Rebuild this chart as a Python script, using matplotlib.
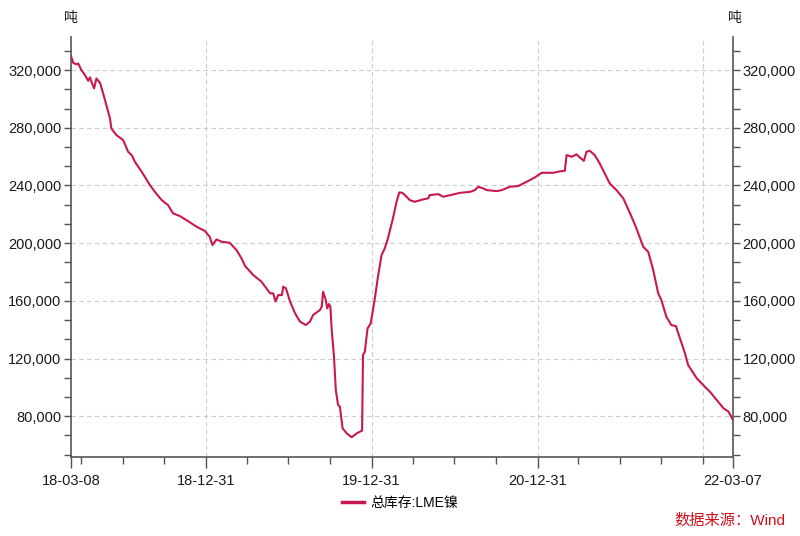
import numpy as np
import pandas as pd
import matplotlib
matplotlib.use("Agg")
import matplotlib.pyplot as plt
import matplotlib.dates as mdates
from matplotlib.ticker import FixedLocator, FuncFormatter

plt.rcParams['font.family'] = ['Liberation Sans', 'Noto Sans CJK SC', 'DejaVu Sans']

# LME nickel total stock (tonnes)
dates = [
    "2018-03-08", "2018-03-13", "2018-03-20", "2018-03-24", "2018-03-31", "2018-04-08",
    "2018-04-15", "2018-04-19", "2018-04-22", "2018-04-28", "2018-05-03", "2018-05-11",
    "2018-05-18", "2018-05-25", "2018-06-02", "2018-06-05", "2018-06-16", "2018-07-01",
    "2018-07-12", "2018-07-20", "2018-07-27", "2018-08-11", "2018-08-29", "2018-09-09",
    "2018-09-24", "2018-10-08", "2018-10-19", "2018-11-03", "2018-11-21", "2018-12-10",
    "2018-12-28", "2019-01-08", "2019-01-14", "2019-01-23", "2019-02-03", "2019-02-21",
    "2019-03-08", "2019-03-19", "2019-03-27", "2019-04-14", "2019-05-02", "2019-05-13",
    "2019-05-21", "2019-05-28", "2019-06-02", "2019-06-08", "2019-06-16", "2019-06-19",
    "2019-06-25", "2019-07-04", "2019-07-15", "2019-07-26", "2019-08-08", "2019-08-17",
    "2019-08-24", "2019-09-08", "2019-09-12", "2019-09-15", "2019-09-21", "2019-09-24",
    "2019-09-28", "2019-10-01", "2019-10-04", "2019-10-09", "2019-10-13", "2019-10-18",
    "2019-10-22", "2019-10-28", "2019-11-06", "2019-11-17", "2019-11-28", "2019-12-10",
    "2019-12-12", "2019-12-16", "2019-12-22", "2019-12-29", "2020-01-07", "2020-01-14",
    "2020-01-22", "2020-01-29", "2020-02-05", "2020-02-16", "2020-02-24", "2020-03-01",
    "2020-03-08", "2020-03-17", "2020-03-24", "2020-04-04", "2020-04-23", "2020-05-04",
    "2020-05-07", "2020-05-26", "2020-06-06", "2020-06-21", "2020-07-13", "2020-08-04",
    "2020-08-15", "2020-08-22", "2020-09-02", "2020-09-10", "2020-10-02", "2020-10-13",
    "2020-10-31", "2020-11-18", "2020-12-07", "2020-12-25", "2021-01-09", "2021-02-04",
    "2021-02-18", "2021-03-01", "2021-03-05", "2021-03-16", "2021-03-27", "2021-04-03",
    "2021-04-12", "2021-04-18", "2021-04-25", "2021-05-06", "2021-05-17", "2021-05-28",
    "2021-06-08", "2021-06-23", "2021-07-08", "2021-07-23", "2021-08-06", "2021-08-21",
    "2021-09-01", "2021-09-12", "2021-09-23", "2021-09-30", "2021-10-11", "2021-10-22",
    "2021-11-01", "2021-11-10", "2021-11-21", "2021-11-28", "2021-12-17", "2022-01-04",
    "2022-01-15", "2022-01-30", "2022-02-14", "2022-02-25", "2022-03-07",
]
stock_k = [
    329.7, 325.0, 324.0, 324.6, 320.0, 316.5,
    312.6, 315.0, 312.0, 307.3, 314.2, 311.2,
    303.8, 295.7, 286.5, 279.6, 275.0, 271.5,
    263.4, 261.0, 256.4, 249.5, 240.3, 235.6,
    229.9, 226.4, 220.7, 218.8, 215.3, 211.4,
    208.5, 204.4, 198.7, 202.6, 201.0, 200.3,
    195.2, 189.5, 184.1, 177.9, 173.3, 168.7,
    165.2, 165.2, 159.6, 164.0, 164.0, 169.8,
    168.7, 159.6, 151.4, 145.6, 143.2, 145.6,
    150.2, 153.6, 156.0, 166.3, 160.5, 154.8,
    157.8, 156.0, 139.8, 121.3, 98.2, 87.8,
    86.6, 71.6, 68.1, 65.4, 68.1, 70.0,
    122.4, 124.7, 140.9, 144.4, 161.5, 176.7,
    191.8, 196.4, 203.3, 217.2, 228.7, 235.2,
    234.9, 232.2, 229.9, 228.7, 230.4, 231.1,
    233.3, 234.0, 232.2, 233.3, 234.9, 235.6,
    236.8, 239.1, 238.0, 236.8, 236.1, 236.8,
    239.1, 239.6, 242.6, 245.6, 248.8, 248.8,
    249.8, 250.2, 261.1, 259.9, 261.6, 259.5,
    257.1, 263.4, 264.1, 261.1, 255.3, 248.4,
    241.5, 236.8, 231.1, 220.7, 210.3, 197.5,
    194.0, 181.4, 165.2, 160.5, 149.0, 143.2,
    142.5, 134.0, 123.6, 115.5, 106.3, 100.4,
    97.0, 91.2, 85.5, 83.2, 77.4,
]

x_labels = ["18-03-08", "18-12-31", "19-12-31", "20-12-31", "22-03-07"]
x_label_dates = ["2018-03-08", "2018-12-31", "2019-12-31", "2020-12-31", "2022-03-07"]
grid_dates = ["2018-12-31", "2019-12-31", "2020-12-31", "2021-12-31"]
y_ticks = [80000, 120000, 160000, 200000, 240000, 280000, 320000]

LINE = '#C8194F'
AXIS = '#555555'
TEXT = '#1a1a1a'

t = pd.to_datetime(dates)
values = np.array(stock_k) * 1000

fig = plt.figure(figsize=(8, 5.36), dpi=100)
ax = fig.add_axes([0.08875, 0.1474, 0.8275, 0.7836])

ax.plot(t, values, color=LINE, linewidth=1.5, zorder=3)

x0 = pd.Timestamp(x_label_dates[0])
x1 = pd.Timestamp(x_label_dates[-1])
ax.set_xlim(x0, x1)
ax.set_ylim(51700, 343000)

# grids
for yv in y_ticks:
    ax.axhline(yv, color='#cccccc', linestyle=(0, (4, 3)), linewidth=0.8, zorder=1)
for d in grid_dates:
    ax.axvline(pd.Timestamp(d), color='#cccccc', linestyle=(0, (4, 3)), linewidth=0.8, zorder=1)

# y axis: major + minor ticks, both sides
ax.yaxis.set_major_locator(FixedLocator(y_ticks))
ax.yaxis.set_minor_locator(FixedLocator(np.arange(40000, 346000, 40000 / 3)))
ax.yaxis.set_major_formatter(FuncFormatter(lambda v, p: f"{int(round(v)):,}"))
ax.tick_params(axis='y', which='both', left=True, right=True, labelleft=True, labelright=True,
               direction='out', length=5, width=1, color=AXIS, labelsize=10.5, labelcolor=TEXT, pad=2)

# x axis: labelled dates + quarter-end minor ticks
quarters = pd.date_range("2018-03-31", "2021-12-31", freq="QE")
ax.xaxis.set_major_locator(FixedLocator(mdates.date2num(pd.to_datetime(x_label_dates))))
ax.xaxis.set_major_formatter(FuncFormatter(lambda v, p: x_labels[p] if p is not None and p < len(x_labels) else ""))
ax.xaxis.set_minor_locator(FixedLocator(mdates.date2num(quarters)))
ax.tick_params(axis='x', which='major', direction='out', length=8, width=1, color=AXIS,
               labelsize=10.5, labelcolor=TEXT, pad=4)
ax.tick_params(axis='x', which='minor', direction='out', length=5, width=1, color=AXIS)

ax.spines['top'].set_visible(False)
for side in ['left', 'right', 'bottom']:
    ax.spines[side].set_color(AXIS)
    ax.spines[side].set_linewidth(1.2)

# unit labels
fig.text(71 / 800, 1 - 18 / 536, "吨", ha='center', va='center', fontsize=10, color=TEXT)
fig.text(735 / 800, 1 - 18 / 536, "吨", ha='center', va='center', fontsize=10, color=TEXT)

# legend
fig.legend([plt.Line2D([], [], color=LINE, linewidth=2.5)], ["总库存:LME镍"],
           loc='center', bbox_to_anchor=(0.5, 1 - 503 / 536), frameon=False,
           fontsize=10, handlelength=1.6, handletextpad=0.5)

fig.text(785 / 800, 1 - 521 / 536, "数据来源：Wind", ha='right', va='center',
         fontsize=11, color='#D0101B')

fig.savefig("out.png", dpi=100)
